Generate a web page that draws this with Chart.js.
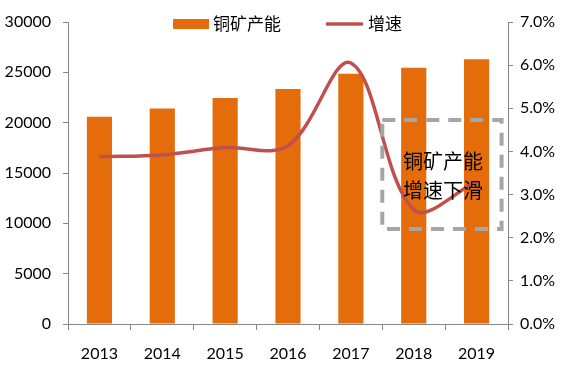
<!DOCTYPE html>
<html>
<head>
<meta charset="utf-8">
<script src="https://cdn.jsdelivr.net/npm/chart.js@4"></script>
<style>
  html, body { margin: 0; padding: 0; background: #fff; }
  #wrap { width: 573px; height: 375px; }
</style>
</head>
<body>
<div id="wrap"><canvas id="chart" width="573" height="375"></canvas></div>
<script>
// data
const years = ['2013', '2014', '2015', '2016', '2017', '2018', '2019'];
const capacity = [20600, 21400, 22450, 23350, 24850, 25450, 26300];
const growth = [0.0388, 0.0392, 0.0409, 0.0413, 0.0605, 0.0265, 0.0330];
const capacityTicks = [0, 5000, 10000, 15000, 20000, 25000, 30000];
const growthTicks = [0, 0.01, 0.02, 0.03, 0.04, 0.05, 0.06, 0.07];
const noteLines = ['铜矿产能', '增速下滑'];

const barColor = '#E46C0A';
const lineColor = '#C0504D';
const axisColor = '#868686';
const numFont = 'Lato, "Noto Sans CJK SC", sans-serif';
const cjkFont = '"Noto Sans CJK SC", sans-serif';

// Legend drawn on top of the plot, like the Excel overlay legend
const topLegend = {
  id: 'topLegend',
  afterDraw(chart) {
    const ctx = chart.ctx;
    const ds = chart.data.datasets;
    ctx.save();
    ctx.font = '17px ' + cjkFont;
    ctx.textBaseline = 'middle';
    let x = 173;
    const y = 24;
    // bar item
    ctx.fillStyle = ds[0].backgroundColor;
    ctx.fillRect(x, y - 5, 36, 10);
    x += 40;
    ctx.fillStyle = '#000';
    ctx.fillText(ds[0].label, x, y);
    x += ctx.measureText(ds[0].label).width + 45;
    // line item
    ctx.strokeStyle = ds[1].borderColor;
    ctx.lineWidth = 3.5;
    ctx.beginPath();
    ctx.moveTo(x, y);
    ctx.lineTo(x + 37, y);
    ctx.stroke();
    x += 42;
    ctx.fillText(ds[1].label, x, y);
    ctx.restore();
  }
};

// dashed note box
const noteBox = {
  id: 'noteBox',
  afterDraw(chart) {
    const ctx = chart.ctx;
    const xs = chart.scales.x;
    const ys = chart.scales.y1;
    const left = (xs.getPixelForValue(4) + xs.getPixelForValue(5)) / 2;
    const right = xs.getPixelForValue(6) + 25;
    const top = ys.getPixelForValue(0.0473);
    const bottom = ys.getPixelForValue(0.0220);
    ctx.save();
    ctx.strokeStyle = '#A6A6A6';
    ctx.lineWidth = 4;
    ctx.setLineDash([13, 9]);
    ctx.strokeRect(left, top, right - left, bottom - top);
    ctx.setLineDash([]);
    ctx.fillStyle = '#000';
    ctx.font = '20px ' + cjkFont;
    ctx.textAlign = 'center';
    ctx.textBaseline = 'middle';
    const cx = (left + right) / 2 + 1;
    ctx.fillText(noteLines[0], cx, top + 41);
    ctx.fillText(noteLines[1], cx, top + 70);
    ctx.restore();
  }
};

const ctx = document.getElementById('chart').getContext('2d');
const chart = new Chart(ctx, {
  data: {
    labels: years,
    datasets: [{
      type: 'bar',
      label: '铜矿产能',
      data: capacity,
      backgroundColor: barColor,
      barPercentage: 0.4,
      categoryPercentage: 1,
      yAxisID: 'y',
      order: 2
    }, {
      type: 'line',
      label: '增速',
      data: growth,
      borderColor: lineColor,
      borderWidth: 3.5,
      pointRadius: 0,
      tension: 0.35,
      fill: false,
      yAxisID: 'y1',
      order: 1
    }]
  },
  options: {
    responsive: false,
    animation: false,
    layout: { padding: { top: 22, left: 0, right: 0, bottom: 0 } },
    plugins: {
      legend: { display: false },
      tooltip: { enabled: false }
    },
    scales: {
      x: {
        offset: true,
        grid: { offset: true, drawOnChartArea: false, drawTicks: true, tickLength: 6, color: axisColor },
        border: { display: true, color: axisColor, width: 1 },
        ticks: { color: '#000', font: { family: numFont, size: 16 }, padding: 14 },
        afterFit(scale) { scale.height = 51; }
      },
      y: {
        position: 'left',
        min: 0,
        max: 30000,
        afterBuildTicks(scale) { scale.ticks = capacityTicks.map(v => ({ value: v })); },
        grid: { drawOnChartArea: false, drawTicks: true, tickLength: 5, color: axisColor },
        border: { display: true, color: axisColor, width: 1 },
        ticks: {
          color: '#000',
          font: { family: numFont, size: 16 },
          padding: 12,
          callback: v => String(v)
        },
        afterFit(scale) { scale.width = 68; }
      },
      y1: {
        position: 'right',
        min: 0,
        max: 0.07,
        afterBuildTicks(scale) { scale.ticks = growthTicks.map(v => ({ value: v })); },
        grid: { drawOnChartArea: false, drawTicks: true, tickLength: 5, color: axisColor },
        border: { display: true, color: axisColor, width: 1 },
        ticks: {
          color: '#000',
          font: { family: numFont, size: 16 },
          padding: 7,
          callback: v => (v * 100).toFixed(1) + '%'
        },
        afterFit(scale) { scale.width = 65; }
      }
    }
  },
  plugins: [noteBox, topLegend]
});
</script>
</body>
</html>
